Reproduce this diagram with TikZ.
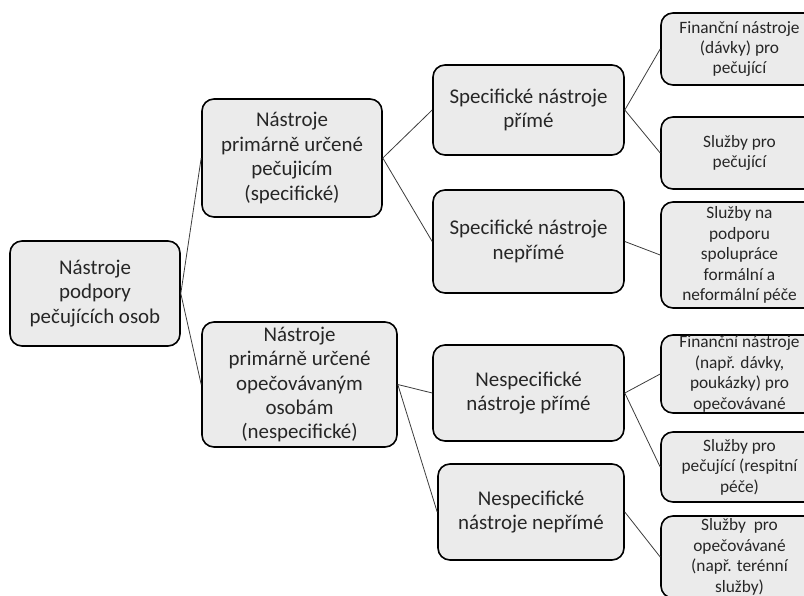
\documentclass[tikz,border=0pt]{standalone}
\usepackage{fontspec}
\setmainfont{Carlito}
\usepackage{tikz}
\usetikzlibrary{positioning,calc}
\definecolor{boxfill}{HTML}{EBEBEB}
\definecolor{linkgray}{HTML}{3C3C3C}
\newcommand{\bigtxt}{\fontsize{21}{24.5}\selectfont}
\newcommand{\smalltxt}{\fontsize{17.4}{20.5}\selectfont}

\begin{document}
\begin{tikzpicture}[x=1bp,y=-1bp,
    box/.style={draw=black, line width=1.6pt, fill=boxfill, rounded corners=12bp,
                align=center, inner sep=0pt, font=\bigtxt, text=black!85},
    leaf/.style={box, font=\smalltxt, minimum width=157bp},
    link/.style={draw=linkgray, line width=0.8pt}]
    \useasboundingbox (0,0) rectangle (804,596);
    % level 0
    \node[box, minimum width=170bp, minimum height=105bp] (root) at (95,293.5) {N\'astroje\\podpory\\pe\v{c}uj\'ic\'ich osob};
    % level 1
    \node[box, minimum width=180bp, minimum height=118bp] (prim) at (292,158) {N\'astroje\\prim\'arn\v{e} ur\v{c}en\'e\\pe\v{c}ujic\'im\\(specifick\'e)};
    \node[box, minimum width=195bp, minimum height=125bp] (opec) at (299.5,384.5) {N\'astroje\\prim\'arn\v{e} ur\v{c}en\'e\\ope\v{c}ov\'avan\'ym\\osob\'am\\(nespecifick\'e)};
    % level 2
    \node[box, minimum width=191bp, minimum height=90bp]  (spp) at (528.5,110)   {Specifick\'e n\'astroje\\p\v{r}\'im\'e};
    \node[box, minimum width=191bp, minimum height=103bp] (spn) at (528.5,241.5) {Specifick\'e n\'astroje\\nep\v{r}\'im\'e};
    \node[box, minimum width=191bp, minimum height=96bp]  (nsp) at (528.5,393)   {Nespecifick\'e\\n\'astroje p\v{r}\'im\'e};
    \node[box, minimum width=186bp, minimum height=96bp]  (nsn) at (531,512)     {Nespecifick\'e\\n\'astroje nep\v{r}\'im\'e};
    % level 3
    \node[leaf, minimum height=72bp]  (finpec) at (739.5,49)  {Finan\v{c}n\'i n\'astroje\\(d\'avky) pro\\pe\v{c}uj\'ic\'i};
    \node[leaf, minimum height=72bp]  (slpec)  at (739.5,153) {Slu\v{z}by pro\\pe\v{c}uj\'ic\'i};
    \node[leaf, minimum height=106bp] (slspol) at (739.5,255) {Slu\v{z}by na\\podporu\\spolupr\'ace\\form\'aln\'i a\\neform\'aln\'i p\'e\v{c}e};
    \node[leaf, minimum height=78bp]  (finope) at (739.5,374) {Finan\v{c}n\'i n\'astroje\\(nap\v{r}. d\'avky,\\pouk\'azky) pro\\ope\v{c}ov\'avan\'e};
    \node[leaf, minimum height=70bp]  (slresp) at (739.5,467) {Slu\v{z}by pro\\pe\v{c}uj\'ic\'i (respitn\'i\\p\'e\v{c}e)};
    \node[leaf, minimum height=82bp]  (slope)  at (739.5,557) {Slu\v{z}by\ \ pro\\ope\v{c}ov\'avan\'e\\(nap\v{r}. ter\'enn\'i\\slu\v{z}by)};
    % connectors
    \draw[link] (root.east) -- (prim.west);
    \draw[link] (root.east) -- (opec.west);
    \draw[link] (prim.east) -- (spp.west);
    \draw[link] (prim.east) -- (spn.west);
    \draw[link] (opec.east) -- (nsp.west);
    \draw[link] (opec.east) -- (nsn.west);
    \draw[link] (spp.east) -- (finpec.west);
    \draw[link] (spp.east) -- (slpec.west);
    \draw[link] (spn.east) -- (slspol.west);
    \draw[link] (nsp.east) -- (finope.west);
    \draw[link] (nsp.east) -- (slresp.west);
    \draw[link] (nsn.east) -- (slope.west);
\end{tikzpicture}
\end{document}
